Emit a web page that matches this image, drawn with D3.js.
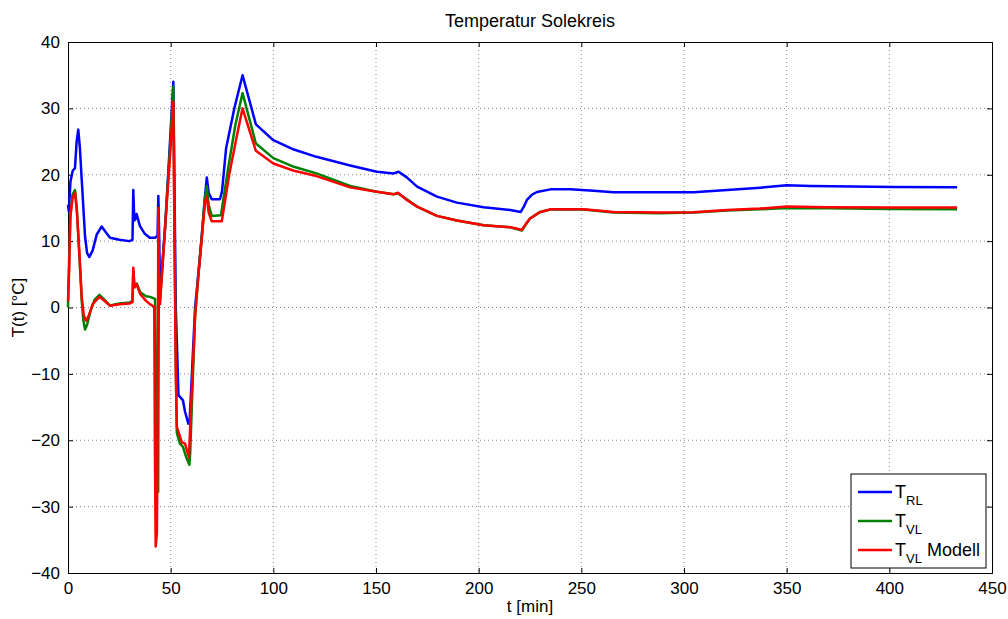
<!DOCTYPE html>
<html>
<head>
<meta charset="utf-8">
<script src="https://cdn.jsdelivr.net/npm/d3@7"></script>
<style>
  body { margin: 0; background: #fff; }
  svg text { font-family: "Liberation Sans", Arial, Helvetica, sans-serif; }
</style>
</head>
<body>
<div id="chart"></div>
<script>
// time [min] and temperature [°C]
var tRL = [0, 0.4, 1.2, 2.3, 3.4, 4.2, 5.0, 5.8, 6.7, 8.3, 9.3, 10.4, 12, 14, 16.4, 18.5, 20.5, 25, 29.9, 31.4, 31.8, 32.3, 33.0, 33.4, 35, 37.4, 39.8, 42.4, 43.6, 44.0, 44.4, 44.8, 45.3, 47.3, 49.5, 51.3, 51.8, 52.5, 53.8, 56, 57, 58.6, 59.2, 61.9, 63.5, 65.1, 66.7, 67.6, 68.5, 70, 74, 75, 77, 81, 85, 91.5, 100, 110, 121, 137.4, 150.4, 158.6, 161, 165, 170, 179.7, 189.4, 202.4, 215.4, 220.5, 222, 223.5, 226, 228.4, 235, 244.6, 256, 265.7, 304.7, 321, 337.2, 350, 361.6, 402, 433];
var vRL = [15.5, 14.5, 19, 20.6, 21, 25, 26.8, 24, 19.2, 10.7, 8.2, 7.6, 8.6, 11, 12.2, 11.3, 10.5, 10.2, 10, 10.2, 17.7, 13.1, 13.4, 14.1, 12.3, 11.1, 10.5, 10.5, 10.8, 16.8, 11, 3, 4, 12.2, 24, 34, 20, 0, -13.2, -14, -15.7, -17.5, -17.3, 0, 5.2, 10.7, 16.7, 19.6, 17.3, 16.3, 16.3, 17.5, 24, 30, 35, 27.6, 25.2, 23.8, 22.7, 21.4, 20.45, 20.2, 20.45, 19.6, 18.2, 16.7, 15.8, 15.1, 14.7, 14.4, 15.2, 16.2, 17, 17.4, 17.8, 17.8, 17.6, 17.35, 17.35, 17.7, 18.05, 18.4, 18.3, 18.15, 18.1];

var tVL = [0, 0.6, 1.2, 2.2, 3.4, 4.3, 5.5, 6.7, 7.5, 8.3, 9.3, 11, 13, 15.3, 17, 20.5, 25, 30, 31.4, 31.8, 32.3, 33.0, 33.5, 35.2, 38, 40, 42.4, 42.8, 43.3, 43.9, 44.2, 44.5, 44.8, 47.3, 49.5, 51.3, 51.8, 52.5, 53, 54.5, 56, 57.5, 59.1, 59.5, 61.9, 63.5, 65.1, 66.7, 67.6, 68.5, 70, 74.5, 78, 81.5, 85, 91.5, 100, 110, 121, 137.4, 150.4, 158.6, 160.7, 165, 170, 179.7, 189.4, 202.4, 215.4, 221, 223, 225, 230, 235, 251, 265.7, 288, 304.7, 321, 337, 350, 370, 400, 433];
var vVL = [0, 8, 14, 17, 17.7, 15, 8, 1, -2, -3.3, -2.6, -0.5, 1.2, 1.9, 1.4, 0.3, 0.6, 0.75, 1.0, 5.5, 3.2, 3.4, 3.6, 2.3, 1.7, 1.6, 1.3, -8, -20, -27.8, 0, 4, 1, 12.2, 23, 33.3, 15, -8, -18.9, -20.5, -21, -22.5, -23.7, -22, -1, 5, 10.5, 16.5, 18.3, 15.5, 13.8, 13.9, 21, 27.5, 32.3, 24.7, 22.5, 21.2, 20.2, 18.3, 17.45, 17.05, 17.2, 16.3, 15.2, 13.8, 13.1, 12.4, 12.1, 11.6, 12.5, 13.4, 14.4, 14.75, 14.75, 14.3, 14.2, 14.3, 14.6, 14.8, 15.0, 14.95, 14.85, 14.8];

var tMod = [0, 0.6, 1.1, 2.2, 3.4, 4.3, 5.5, 6.7, 7.7, 8.8, 10, 12, 15.3, 17, 20.5, 25, 30, 31.4, 31.8, 32.4, 33.0, 33.4, 35.2, 38, 40, 42.0, 42.3, 42.7, 43.3, 43.7, 44.0, 44.3, 44.8, 47.3, 49.5, 51.3, 51.8, 52.5, 53, 55.4, 57, 58.9, 59.5, 61.9, 63.5, 65.1, 66.7, 67.6, 68.5, 70, 74.9, 78.5, 82, 85, 91.5, 100, 110, 121, 137.4, 150.4, 158.6, 160.7, 165, 170, 179.7, 189.4, 202.4, 215.4, 221, 223, 225, 230, 235, 251, 265.7, 288, 304.7, 321, 337, 350, 370, 400, 433];
var vMod = [0.9, 6, 13.6, 16.5, 17.3, 14.5, 8.5, 1.5, -1.2, -2, -1.3, 0.5, 1.6, 1.2, 0.25, 0.5, 0.6, 0.8, 6, 3, 3.3, 3.5, 2, 1, 0.5, 0.1, -20, -36, -34, -15, 15, 4, 0.5, 12, 22, 31, 12, -10, -18, -20.3, -20.5, -22.6, -18, -1.4, 4.8, 10.2, 15.8, 16.7, 14.3, 13, 13, 20, 25.5, 30, 23.6, 21.7, 20.6, 19.8, 18.1, 17.45, 17.05, 17.3, 16.2, 15.2, 13.8, 13.1, 12.4, 12.1, 11.7, 12.6, 13.4, 14.4, 14.8, 14.8, 14.4, 14.3, 14.35, 14.7, 14.9, 15.2, 15.1, 15.05, 15.05];

var xTicks = [0, 50, 100, 150, 200, 250, 300, 350, 400, 450];
var yTicks = [-40, -30, -20, -10, 0, 10, 20, 30, 40];

var series = [
  {t: tRL, v: vRL, color: "#0000ff", name: "T", sub: "RL", suffix: ""},
  {t: tVL, v: vVL, color: "#008000", name: "T", sub: "VL", suffix: ""},
  {t: tMod, v: vMod, color: "#ff0000", name: "T", sub: "VL", suffix: " Modell"}
];

var W = 1008, H = 619;
var margin = {left: 68, right: 16, top: 42, bottom: 46};
var w = W - margin.left - margin.right,
    h = H - margin.top - margin.bottom;

var svg = d3.select("#chart").append("svg")
  .attr("width", W)
  .attr("height", H);

var x = d3.scaleLinear().domain([0, 450]).range([0, w]);
var y = d3.scaleLinear().domain([-40, 40]).range([h, 0]);

var g = svg.append("g").attr("transform", "translate(" + margin.left + "," + margin.top + ")");

// dotted grid
g.selectAll(".vgrid").data(xTicks.slice(1, -1)).enter().append("line")
  .attr("x1", function(d) { return x(d); }).attr("x2", function(d) { return x(d); })
  .attr("y1", 0).attr("y2", h)
  .attr("stroke", "#888").attr("stroke-width", 1).attr("stroke-dasharray", "1,3");
g.selectAll(".hgrid").data(yTicks.slice(1, -1)).enter().append("line")
  .attr("y1", function(d) { return y(d); }).attr("y2", function(d) { return y(d); })
  .attr("x1", 0).attr("x2", w)
  .attr("stroke", "#888").attr("stroke-width", 1).attr("stroke-dasharray", "1,3");

// axes with inward ticks on all four sides
var fmt = function(d) { return d < 0 ? "\u2212" + Math.abs(d) : d; };
var axB = g.append("g").attr("transform", "translate(0," + h + ")")
  .call(d3.axisBottom(x).tickValues(xTicks).tickSize(-5).tickPadding(9).tickFormat(fmt));
var axL = g.append("g")
  .call(d3.axisLeft(y).tickValues(yTicks).tickSize(-5).tickPadding(8).tickFormat(fmt));
var axT = g.append("g")
  .call(d3.axisTop(x).tickValues(xTicks).tickSize(-5).tickFormat(""));
var axR = g.append("g").attr("transform", "translate(" + w + ",0)")
  .call(d3.axisRight(y).tickValues(yTicks).tickSize(-5).tickFormat(""));

[axB, axL, axT, axR].forEach(function(a) {
  a.select(".domain").attr("stroke", "#000").attr("stroke-width", 1);
  a.selectAll(".tick line").attr("stroke", "#000");
  a.selectAll(".tick text").attr("font-size", 17).attr("fill", "#000");
});

// data lines
var line = d3.line()
  .x(function(d) { return x(d[0]); })
  .y(function(d) { return y(d[1]); });

series.forEach(function(s) {
  var pts = s.t.map(function(t, i) { return [t, s.v[i]]; });
  g.append("path")
    .datum(pts)
    .attr("d", line)
    .attr("fill", "none")
    .attr("stroke", s.color)
    .attr("stroke-width", 2.5)
    .attr("stroke-linejoin", "round");
});

// title and labels
svg.append("text")
  .attr("x", margin.left + w / 2).attr("y", 27)
  .attr("text-anchor", "middle").attr("font-size", 18)
  .text("Temperatur Solekreis");
svg.append("text")
  .attr("x", margin.left + w / 2).attr("y", 612)
  .attr("text-anchor", "middle").attr("font-size", 17)
  .text("t [min]");
svg.append("text")
  .attr("transform", "translate(24," + (margin.top + h / 2) + ") rotate(-90)")
  .attr("text-anchor", "middle").attr("font-size", 17)
  .text("T(t) [°C]");

// legend
var lg = svg.append("g").attr("transform", "translate(851,474)");
lg.append("rect").attr("width", 135).attr("height", 94)
  .attr("fill", "#fff").attr("stroke", "#000").attr("stroke-width", 1);
series.forEach(function(s, i) {
  var yy = 18 + i * 29;
  lg.append("line").attr("x1", 7).attr("x2", 41).attr("y1", yy).attr("y2", yy)
    .attr("stroke", s.color).attr("stroke-width", 2.5);
  var tx = lg.append("text").attr("x", 44).attr("y", yy + 6).attr("font-size", 18);
  tx.append("tspan").text(s.name);
  tx.append("tspan").attr("font-size", 13).attr("dy", 7).text(s.sub);
  if (s.suffix) tx.append("tspan").attr("dy", -7).attr("font-size", 18).text(s.suffix);
});
</script>
</body>
</html>
